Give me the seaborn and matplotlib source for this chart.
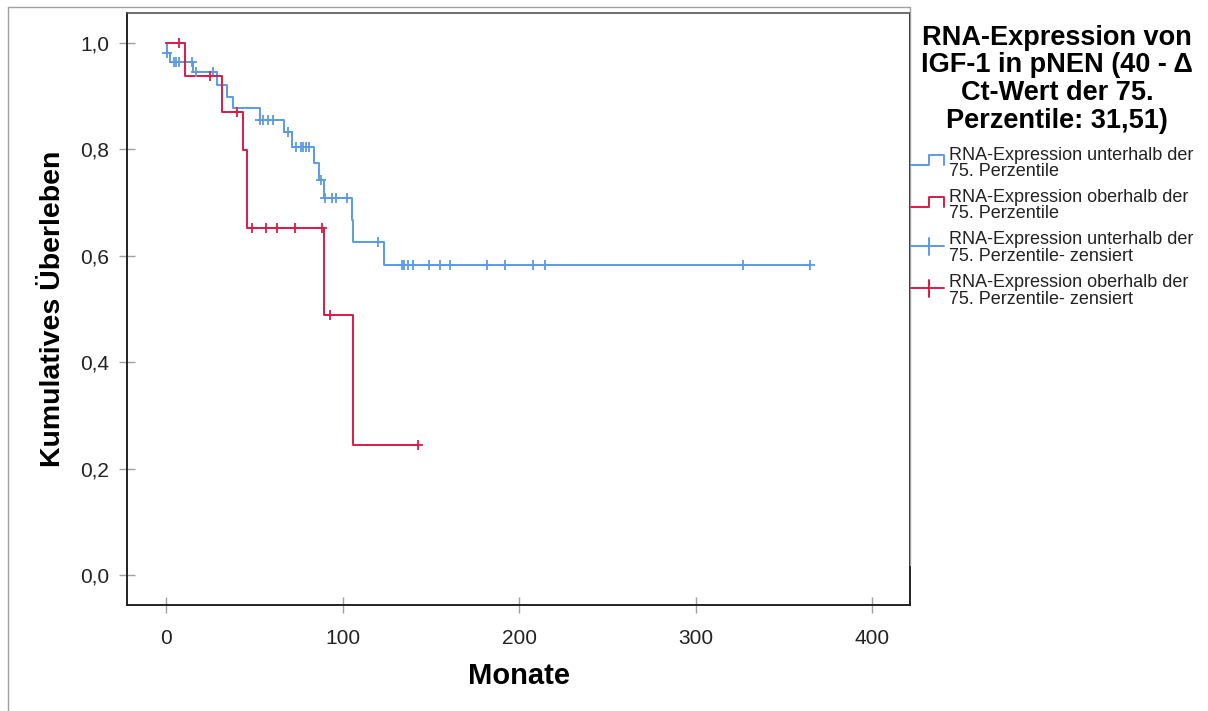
import matplotlib
matplotlib.use("Agg")
import matplotlib.pyplot as plt
from matplotlib.lines import Line2D
from matplotlib.patches import Rectangle
import seaborn as sns
import pandas as pd

# ---------------- data ----------------
# step curve: below 75th percentile (blue)
blue_step_t = [0, 0.4, 2.3, 15.5, 29.0, 34.3, 38.1, 53.3, 66.9, 71.2, 84.0, 86.9, 89.7, 105.2, 106.0, 123.5, 365.0]
blue_step_s = [1.0, 0.981, 0.965, 0.945, 0.921, 0.899, 0.877, 0.855, 0.833, 0.804, 0.774, 0.742, 0.709, 0.668, 0.626, 0.583, 0.583]
blue_cens_t = [0.8, 4.5, 5.8, 7.2, 14.5, 17.0, 26.8, 53.3, 55.1, 58.0, 60.8, 69.3, 73.6, 76.3, 77.8, 79.3, 81.2,
               87.8, 89.9, 94.3, 96.3, 102.4, 120.3, 133.5, 135.0, 137.3, 140.0, 149.0, 155.0, 161.0, 182.0,
               192.0, 207.7, 214.7, 327.0, 365.0]
blue_cens_s = [0.981, 0.965, 0.965, 0.965, 0.965, 0.945, 0.945, 0.855, 0.855, 0.855, 0.855, 0.833, 0.804, 0.804,
               0.804, 0.804, 0.804, 0.742, 0.709, 0.709, 0.709, 0.709, 0.626, 0.583, 0.583, 0.583, 0.583, 0.583,
               0.583, 0.583, 0.583, 0.583, 0.583, 0.583, 0.583, 0.583]

# step curve: above 75th percentile (red)
red_step_t = [0, 10.9, 31.5, 43.4, 45.7, 89.7, 105.8, 143.0]
red_step_s = [1.0, 0.9375, 0.871, 0.799, 0.653, 0.489, 0.245, 0.245]
red_cens_t = [7.5, 25.0, 40.0, 48.9, 56.7, 63.0, 73.0, 88.2, 93.0, 143.0]
red_cens_s = [1.0, 0.9375, 0.871, 0.653, 0.653, 0.653, 0.653, 0.653, 0.489, 0.245]

x_ticks = [0, 100, 200, 300, 400]
y_ticks = [0.0, 0.2, 0.4, 0.6, 0.8, 1.0]
y_tick_labels = ["0,0", "0,2", "0,4", "0,6", "0,8", "1,0"]

legend_title = ["RNA-Expression von", "IGF-1 in pNEN (40 - \u0394", "Ct-Wert der 75.", "Perzentile: 31,51)"]
legend_labels = [
    ["RNA-Expression unterhalb der", "75. Perzentile"],
    ["RNA-Expression oberhalb der", "75. Perzentile"],
    ["RNA-Expression unterhalb der", "75. Perzentile- zensiert"],
    ["RNA-Expression oberhalb der", "75. Perzentile- zensiert"],
]

BLUE = "#5b9be4"
RED = "#dc1a46"

# ---------------- figure ----------------
sns.set_theme(style="white")
plt.rcParams["font.family"] = ["Liberation Sans", "DejaVu Sans"]

W, H = 1208, 711
fig = plt.figure(figsize=(W / 100, H / 100), dpi=100)
fig.patch.set_facecolor("white")

def fx(px):
    return px / W

def fy(py):
    return 1 - py / H

ax = fig.add_axes([fx(127), fy(605), fx(910) - fx(127), fy(13) - fy(605)])

blue_df = pd.DataFrame({"t": blue_step_t, "s": blue_step_s})
red_df = pd.DataFrame({"t": red_step_t, "s": red_step_s})
blue_c = pd.DataFrame({"t": blue_cens_t, "s": blue_cens_s})
red_c = pd.DataFrame({"t": red_cens_t, "s": red_cens_s})

sns.lineplot(data=blue_df, x="t", y="s", drawstyle="steps-post", color=BLUE, lw=1.4,
             estimator=None, ax=ax, zorder=3)
sns.lineplot(data=red_df, x="t", y="s", drawstyle="steps-post", color=RED, lw=1.4,
             estimator=None, ax=ax, zorder=4)
sns.scatterplot(data=blue_c, x="t", y="s", marker="+", s=55, color=BLUE, linewidth=1.3, ax=ax, zorder=5)
sns.scatterplot(data=red_c, x="t", y="s", marker="+", s=55, color=RED, linewidth=1.3, ax=ax, zorder=6)

ax.set_xlim(-22.1, 421.5)
ax.set_ylim(-0.0564, 1.0564)
ax.set_xticks(x_ticks)
ax.set_xticklabels([str(v) for v in x_ticks])
ax.set_yticks(y_ticks)
ax.set_yticklabels(y_tick_labels)
ax.tick_params(axis="both", direction="inout", length=12, width=1.0, color="#a0a0a0",
               labelsize=15, labelcolor="#222222", left=True, bottom=True)
ax.tick_params(axis="y", pad=7)
ax.tick_params(axis="x", pad=11)

for side in ["left", "bottom", "top", "right"]:
    ax.spines[side].set_visible(True)
    ax.spines[side].set_color("#222222")
    ax.spines[side].set_linewidth(1.4)
ax.spines["top"].set_color("#555555")
ax.spines["top"].set_linewidth(1.2)

ax.set_xlabel("Monate", fontsize=21, fontweight="bold", color="black", labelpad=10)
ax.set_ylabel("Kumulatives \u00dcberleben", fontsize=20.5, fontweight="bold", color="black", labelpad=10)

# outer frame lines
fig.add_artist(Line2D([fx(8), fx(8)], [fy(7), 0], color="#a0a0a0", lw=1.0))
fig.add_artist(Line2D([fx(8), fx(910)], [fy(7), fy(7)], color="#a0a0a0", lw=1.0))

# legend panel (covers upper part of right spine)
fig.add_artist(Rectangle((fx(910), fy(565)), fx(1300) - fx(910), fy(7) - fy(565),
                         transform=fig.transFigure, facecolor="white", edgecolor="none",
                         lw=0, zorder=2))
fig.add_artist(Line2D([fx(910), fx(910)], [fy(7), fy(565)], color="#a0a0a0", lw=1.0, zorder=3))

for i, line in enumerate(legend_title):
    fig.text(fx(1057), fy(38 + i * 27.5), line, ha="center", va="center",
             fontsize=19.5, fontweight="bold", color="black", zorder=5)

rows = [155, 197, 240, 282]
colors = [BLUE, RED, BLUE, RED]
for i, (labels, yc, c) in enumerate(zip(legend_labels, rows, colors)):
    fig.text(fx(949), fy(yc), labels[0], ha="left", va="center", fontsize=13, color="#222222", zorder=5)
    fig.text(fx(949), fy(yc + 17), labels[1], ha="left", va="center", fontsize=13, color="#222222", zorder=5)
    if i < 2:
        lo, hi = yc + 10, yc
        xs = [fx(911), fx(929), fx(929), fx(944), fx(944)]
        ys = [fy(lo), fy(lo), fy(hi), fy(hi), fy(lo)]
        fig.add_artist(Line2D(xs, ys, color=c, lw=1.4, zorder=5))
    else:
        ym = yc + 6
        fig.add_artist(Line2D([fx(911), fx(944)], [fy(ym), fy(ym)], color=c, lw=1.4, zorder=5))
        fig.add_artist(Line2D([fx(929), fx(929)], [fy(ym - 8), fy(ym + 9)], color=c, lw=1.4, zorder=5))

fig.savefig("out.png", dpi=100)
